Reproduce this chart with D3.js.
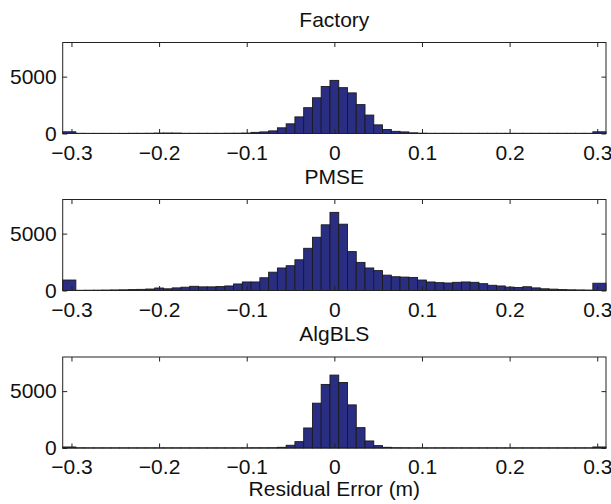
<!DOCTYPE html>
<html>
<head>
<meta charset="utf-8">
<script src="https://cdn.jsdelivr.net/npm/d3@7"></script>
<style>
  html, body { margin: 0; padding: 0; background: #fff; }
  svg { display: block; font-family: "Liberation Sans", Arial, Helvetica, sans-serif; }
  .tick-lbl { font-size: 21px; fill: #111; }
  .ttl { font-size: 21px; fill: #111; }
</style>
</head>
<body>
<div id="chart"></div>
<script>
/* ── DATA ── */
const binCenters = [
  -0.30, -0.29, -0.28, -0.27, -0.26, -0.25, -0.24, -0.23, -0.22, -0.21,
  -0.20, -0.19, -0.18, -0.17, -0.16, -0.15, -0.14, -0.13, -0.12, -0.11,
  -0.10, -0.09, -0.08, -0.07, -0.06, -0.05, -0.04, -0.03, -0.02, -0.01,
   0.00,  0.01,  0.02,  0.03,  0.04,  0.05,  0.06,  0.07,  0.08,  0.09,
   0.10,  0.11,  0.12,  0.13,  0.14,  0.15,  0.16,  0.17,  0.18,  0.19,
   0.20,  0.21,  0.22,  0.23,  0.24,  0.25,  0.26,  0.27,  0.28,  0.29,
   0.30
];

const factoryCounts = [
   150,   20,   15,   15,   15,   15,   15,   20,   20,   25,
    40,   45,   40,   20,   20,   20,   20,   20,   25,   30,
    40,  100,  140,  230,  500,  850, 1460, 2270, 3140, 4130,
  4670, 4030, 3570, 2540, 1620,  760,  350,  190,  140,   60,
    30,   20,   20,   20,   20,   20,   20,   20,   20,   20,
    20,   20,   20,   20,   20,   20,   20,   20,   20,   20,
   150
];

const pmseCounts = [
   920,   20,   25,   30,   40,   50,   60,   80,  100,  130,
   220,  150,  230,  290,  370,  320,  320,  345,  400,  575,
   750,  750, 1120, 1610, 1980, 2180, 2700, 3710, 4680, 5775,
  6870, 5830, 3420, 2470, 1980, 1750, 1350, 1210, 1180, 1150,
   920,  750,  690,  660,  720,  750,  720,  600,  460,  400,
   300,  260,  330,  230,  150,  120,   80,   60,   50,   40,
   640
];

const algblsCounts = [
    90,   15,   10,   10,   10,   10,   10,   10,   10,   10,
    10,   10,   10,   10,   10,   10,   10,   10,   10,   10,
    10,   15,   15,   20,   60,  240,  560, 1760, 3940, 5590,
  6410, 5760, 3790, 1790,  620,  210,   60,   20,   15,   10,
    10,   10,   10,   10,   10,   10,   10,   10,   10,   10,
    10,   10,   10,   10,   10,   10,   10,   10,   10,   10,
    90
];

const panelTitles = ['Factory', 'PMSE', 'AlgBLS'];
const xTicks      = [-0.3, -0.2, -0.1, 0, 0.1, 0.2, 0.3];
const xTickLabels = ['\u22120.3', '\u22120.2', '\u22120.1', '0', '0.1', '0.2', '0.3'];
const yTicks      = [0, 5000];
const xLabel      = 'Residual Error (m)';

const xDomain = [-0.31, 0.31];
const yDomain = [0, 8000];
const binW    = 0.01;

/* ── LAYOUT ── */
const W = 611, H = 504;
const left = 62.7, right = 606;
const panelTops = [42.5, 199.5, 357];
const panelH    = 91;
const TICK = 4.5;

const svg = d3.select('#chart').append('svg').attr('width', W).attr('height', H);

const x = d3.scaleLinear().domain(xDomain).range([left, right]);

const series = [factoryCounts, pmseCounts, algblsCounts];

series.forEach((counts, p) => {
  const top = panelTops[p];
  const y = d3.scaleLinear().domain(yDomain).range([top + panelH, top]);
  const g = svg.append('g');

  const data = binCenters.map((c, i) => ({ c, n: counts[i], i }));
  const x0 = d => d.i === 0 ? xDomain[0] : d.c - binW / 2;
  const x1 = d => d.i === binCenters.length - 1 ? xDomain[1] : d.c + binW / 2;

  // bars
  g.selectAll('rect').data(data).enter().append('rect')
    .attr('x', d => x(x0(d)))
    .attr('width', d => x(x1(d)) - x(x0(d)))
    .attr('y', d => y(d.n))
    .attr('height', d => y(0) - y(d.n))
    .attr('fill', '#2a2e82')
    .attr('stroke', '#1a1a1a')
    .attr('stroke-width', 0.9);

  // box
  g.append('rect')
    .attr('x', left).attr('y', top)
    .attr('width', right - left).attr('height', panelH)
    .attr('fill', 'none').attr('stroke', '#222').attr('stroke-width', 1);

  // x axis (ticks inside, bottom + top)
  const xb = g.append('g').attr('transform', `translate(0,${top + panelH})`)
    .call(d3.axisBottom(x).tickValues(xTicks).tickSizeInner(-TICK).tickSizeOuter(0)
      .tickFormat((d, i) => xTickLabels[i]));
  xb.select('.domain').remove();
  xb.selectAll('line').attr('stroke', '#222');
  xb.selectAll('text').attr('class', 'tick-lbl').attr('dy', null).attr('y', 26)
    .attr('font-size', null).attr('font-family', null);

  const xt = g.append('g').attr('transform', `translate(0,${top})`)
    .call(d3.axisTop(x).tickValues(xTicks).tickSizeInner(-TICK).tickSizeOuter(0).tickFormat(''));
  xt.select('.domain').remove();
  xt.selectAll('line').attr('stroke', '#222');

  // y axis (left with labels, right ticks only)
  const yl = g.append('g').attr('transform', `translate(${left},0)`)
    .call(d3.axisLeft(y).tickValues(yTicks).tickSizeInner(-TICK).tickSizeOuter(0)
      .tickPadding(6).tickFormat(d3.format('d')));
  yl.select('.domain').remove();
  yl.selectAll('line').attr('stroke', '#222');
  yl.selectAll('text').attr('class', 'tick-lbl').attr('font-size', null).attr('font-family', null);

  const yr = g.append('g').attr('transform', `translate(${right},0)`)
    .call(d3.axisRight(y).tickValues(yTicks).tickSizeInner(-TICK).tickSizeOuter(0).tickFormat(''));
  yr.select('.domain').remove();
  yr.selectAll('line').attr('stroke', '#222');

  // title
  g.append('text').attr('class', 'ttl')
    .attr('x', (left + right) / 2).attr('y', top - 16)
    .attr('text-anchor', 'middle').text(panelTitles[p]);
});

// x label
svg.append('text').attr('class', 'ttl')
  .attr('x', (left + right) / 2).attr('y', 496)
  .attr('text-anchor', 'middle').text(xLabel);
</script>
</body>
</html>
